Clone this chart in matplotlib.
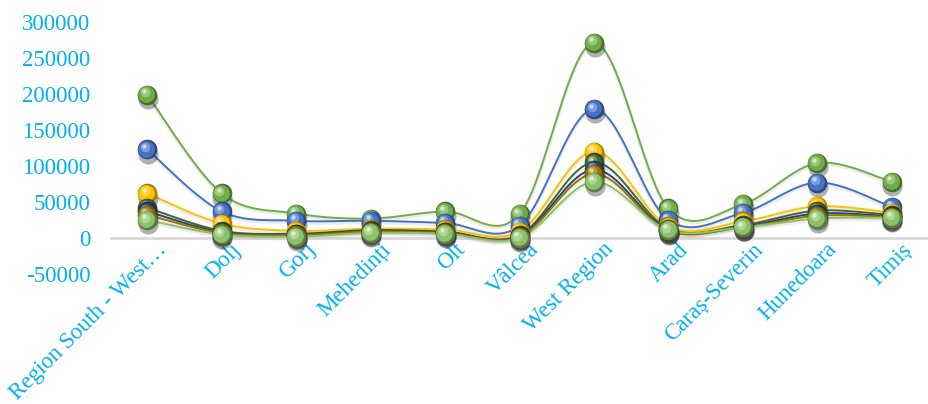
import numpy as np
import matplotlib
matplotlib.use("Agg")
import matplotlib.pyplot as plt
from matplotlib import colors as mcolors
from matplotlib.transforms import offset_copy, ScaledTranslation

# data
categories = ["Region South - West…", "Dolj", "Gorj", "Mehedinți", "Olt", "Vâlcea",
              "West Region", "Arad", "Caraș-Severin", "Hunedoara", "Timiș"]
s_green = [199000, 62000, 34000, 27000, 37000, 33000, 271000, 41000, 47000, 104000, 78000]
s_blue = [123000, 37000, 24000, 24000, 21000, 17000, 179000, 25000, 35000, 77000, 43000]
s_gold = [62000, 20000, 10000, 13000, 12000, 9000, 120000, 16000, 23000, 44000, 35000]
s_dkgreen = [42000, 10000, 6000, 11000, 9000, 4000, 105000, 13000, 18000, 38000, 32000]
s_dkblue = [37000, 8000, 5000, 10000, 8000, 3000, 95000, 11000, 16000, 34000, 30000]
s_dkgold = [32000, 7000, 4000, 9000, 7000, 2000, 89000, 10000, 15000, 31000, 29000]
s_ltgreen = [25000, 5000, 2000, 7000, 6000, 0, 78000, 11000, 15000, 27000, 28000]

series = [s_green, s_blue, s_gold, s_dkgreen, s_dkblue, s_dkgold, s_ltgreen]
colors = ["#70AD47", "#4472C4", "#FFC000", "#43682B", "#264478", "#997300", "#8CC168"]

yticks = [-50000, 0, 50000, 100000, 150000, 200000, 250000, 300000]
label_color = "#00B0F0"


def catmull(x, y, n=24):
    # smooth line through the points, like Excel's "smoothed line"
    x = np.asarray(x, float)
    y = np.asarray(y, float)
    px = np.concatenate([[x[0]], x, [x[-1]]])
    py = np.concatenate([[y[0]], y, [y[-1]]])
    xs, ys = [], []
    t = np.linspace(0, 1, n, endpoint=False)
    for i in range(1, len(px) - 2):
        p0, p1, p2, p3 = py[i - 1], py[i], py[i + 1], py[i + 2]
        q0, q1, q2, q3 = px[i - 1], px[i], px[i + 1], px[i + 2]
        ys.append(0.5 * (2 * p1 + (-p0 + p2) * t + (2 * p0 - 5 * p1 + 4 * p2 - p3) * t ** 2
                         + (-p0 + 3 * p1 - 3 * p2 + p3) * t ** 3))
        xs.append(0.5 * (2 * q1 + (-q0 + q2) * t + (2 * q0 - 5 * q1 + 4 * q2 - q3) * t ** 2
                         + (-q0 + 3 * q1 - 3 * q2 + q3) * t ** 3))
    xs.append([x[-1]])
    ys.append([y[-1]])
    return np.concatenate(xs), np.concatenate(ys)


def shade(c, f):
    r = np.array(mcolors.to_rgb(c))
    if f < 0:
        return tuple(r * (1 + f))
    return tuple(r + (1 - r) * f)


plt.rcParams['font.family'] = ['Liberation Serif', 'DejaVu Serif']

fig = plt.figure(figsize=(9.29, 4.04), dpi=100)
ax = fig.add_axes([110 / 929, 130 / 404, 819 / 929, 252 / 404])
# x labels sit next to the zero line (must be set before the tick labels)
ax.spines["bottom"].set_position(("data", 0))

x = np.arange(len(categories))
ax.axhline(0, color="#D9D9D9", lw=2, zorder=1)

for k, (vals, c) in enumerate(zip(series, colors)):
    sx, sy = catmull(x, vals)
    # soft shadow under the line
    ax.plot(sx, np.array(sy) - 2500, color="#BBBBBB", lw=2.5, alpha=0.25, zorder=2 + k * 0.1,
            solid_capstyle="round")
    ax.plot(sx, sy, color=c, lw=1.4, zorder=3 + k * 0.1)

for k, (vals, c) in enumerate(zip(series, colors)):
    z = 10 + k
    sh = offset_copy(ax.transData, fig=fig, x=0.5, y=-3, units="points")
    ax.scatter(x, vals, s=210, color="#222222", alpha=0.35, lw=0, transform=sh, zorder=z)
    ax.scatter(x, vals, s=200, color=shade(c, -0.35), lw=0, zorder=z)
    t1 = offset_copy(ax.transData, fig=fig, x=-0.6, y=0.6, units="points")
    ax.scatter(x, vals, s=145, color=c, lw=0, transform=t1, zorder=z)
    t2 = offset_copy(ax.transData, fig=fig, x=-1.6, y=1.8, units="points")
    ax.scatter(x, vals, s=48, color=shade(c, 0.3), lw=0, transform=t2, zorder=z)
    t3 = offset_copy(ax.transData, fig=fig, x=-2.2, y=2.6, units="points")
    ax.scatter(x, vals, s=10, color=shade(c, 0.7), lw=0, transform=t3, zorder=z)

ax.set_xlim(-0.5, len(categories) - 0.5)
ax.set_ylim(-50000, 300000)
ax.set_yticks(yticks)
ax.set_yticklabels([str(v) for v in yticks])
ax.set_xticks(x)
ax.set_xticklabels(categories, rotation=45, ha="right", va="top", rotation_mode="anchor")
for s in ["top", "right", "left", "bottom"]:
    ax.spines[s].set_visible(False)
ax.tick_params(axis="both", length=0, colors=label_color, labelsize=16.5)
ax.tick_params(axis="y", pad=14)
ax.tick_params(axis="x", pad=5)
shift = ScaledTranslation(9 / 100, 6 / 100, fig.dpi_scale_trans)
for lbl in ax.get_xticklabels():
    lbl.set_transform(lbl.get_transform() + shift)

fig.savefig("out.png", dpi=100)
